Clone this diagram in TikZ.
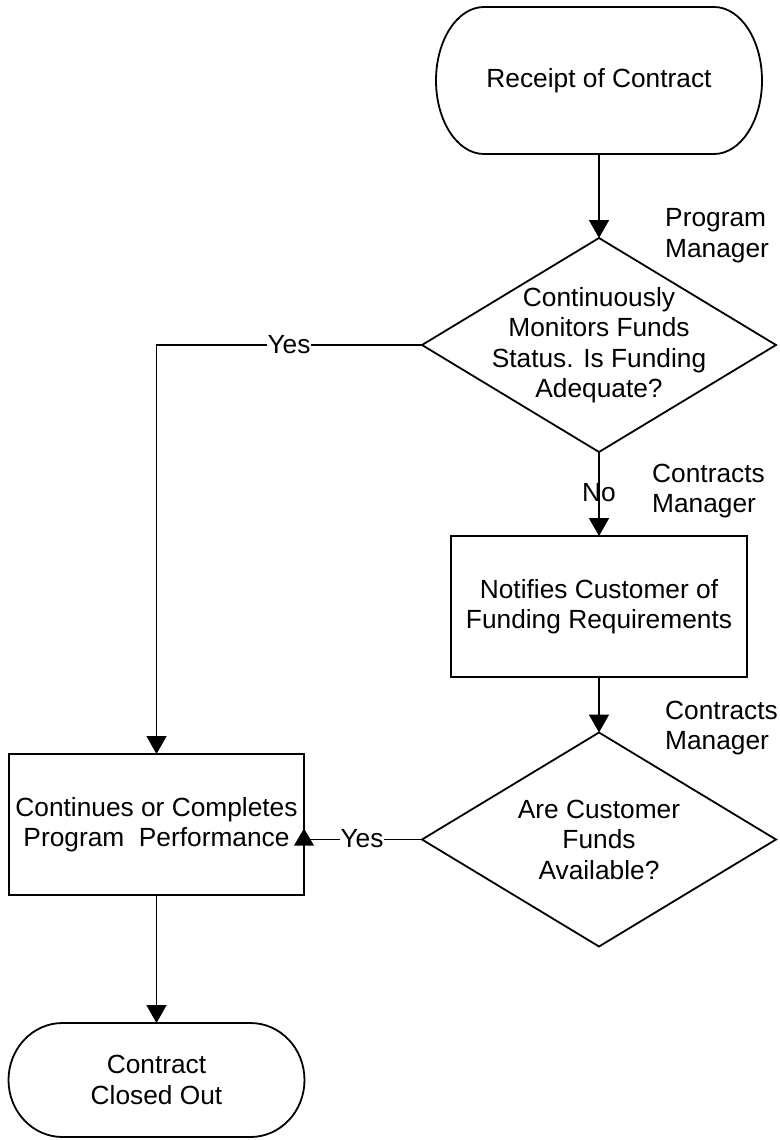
\documentclass[tikz,border=0pt]{standalone}
\usepackage{fontspec}
\setmainfont{Liberation Sans}
\usetikzlibrary{arrows.meta,shapes.geometric}
\begin{document}
\begin{tikzpicture}[x=1pt,y=1pt,
 every node/.style={font=\fontsize{26.3}{30.5}\selectfont},
 ln/.style={line width=1.8pt,black},
 arr/.style={ln,-{Triangle[length=18pt,width=20pt]}},
 boxnode/.style={draw,ln,rectangle,align=center,inner sep=0pt,outer sep=0pt,minimum width=296pt,minimum height=141pt},
 termnode/.style={rectangle,align=center,inner sep=0pt,outer sep=0pt},
 dianode/.style={diamond,draw,ln,inner sep=0pt,outer sep=0pt,minimum width=354pt,minimum height=214pt},
 txt/.style={align=center,inner sep=0pt},
 role/.style={align=left,inner sep=0pt,anchor=west},
 yeslbl/.style={fill=white,inner sep=1pt}
]
\useasboundingbox (0,0) rectangle (779,-1140);

% nodes
\node[termnode,minimum width=326pt,minimum height=147pt] (t1) at (599,-80.5) {Receipt of Contract};
\draw[ln] ([xshift=48pt]t1.north west) -- ([xshift=-48pt]t1.north east)
  arc[start angle=90,end angle=-90,x radius=48pt,y radius=73.5pt]
  -- ([xshift=48pt]t1.south west)
  arc[start angle=270,end angle=90,x radius=48pt,y radius=73.5pt] -- cycle;

\node[dianode] (d1) at (599,-345) {};
\node[txt] (d1t) at (d1.center) {Continuously\\Monitors Funds\\Status. Is Funding\\Adequate?};

\node[boxnode] (b2) at (599,-606.5) {Notifies Customer of\\Funding Requirements};

\node[dianode] (d2) at (599,-839.5) {};
\node[txt] (d2t) at (d2.center) {Are Customer\\Funds\\Available?};

\node[boxnode,minimum width=295pt] (b1) at (156.5,-824.5) {Continues or Completes\\Program~~Performance};

\node[termnode,minimum width=296pt,minimum height=114pt] (t2) at (156.5,-1080) {Contract\\Closed Out};
\draw[ln] ([xshift=54pt]t2.north west) -- ([xshift=-54pt]t2.north east)
  arc[start angle=90,end angle=-90,x radius=54pt,y radius=57pt]
  -- ([xshift=54pt]t2.south west)
  arc[start angle=270,end angle=90,x radius=54pt,y radius=57pt] -- cycle;

% role labels
\node[role] (pm) at (665,-235.5) {Program\\Manager};
\node[role] (cm1) at (652,-491) {Contracts\\Manager};
\node[role] (cm2) at (665,-728) {Contracts\\Manager};

% connectors
\draw[arr] (t1.south) -- (d1.north);
\draw[arr] (d1.west) -- (d1.west -| b1.north) -- (b1.north);
\node[yeslbl] (y1) at (289,-345) {Yes};

\node[inner sep=0pt] (no) at (599,-493) {No};
\draw[arr] (d1.south) -- (b2.north);

\draw[arr] (b2.south) -- (d2.north);

\draw[ln] (d2.west) -- (b1.east |- d2.west) coordinate (tipc);
\fill ([shift={(-10pt,-6pt)}]tipc) -- ([shift={(10pt,-6pt)}]tipc) -- ([shift={(0pt,11pt)}]tipc) -- cycle;
\node[yeslbl] (y2) at (362,-839) {Yes};

\draw[arr] (b1.south) -- (t2.north);
\end{tikzpicture}
\end{document}
